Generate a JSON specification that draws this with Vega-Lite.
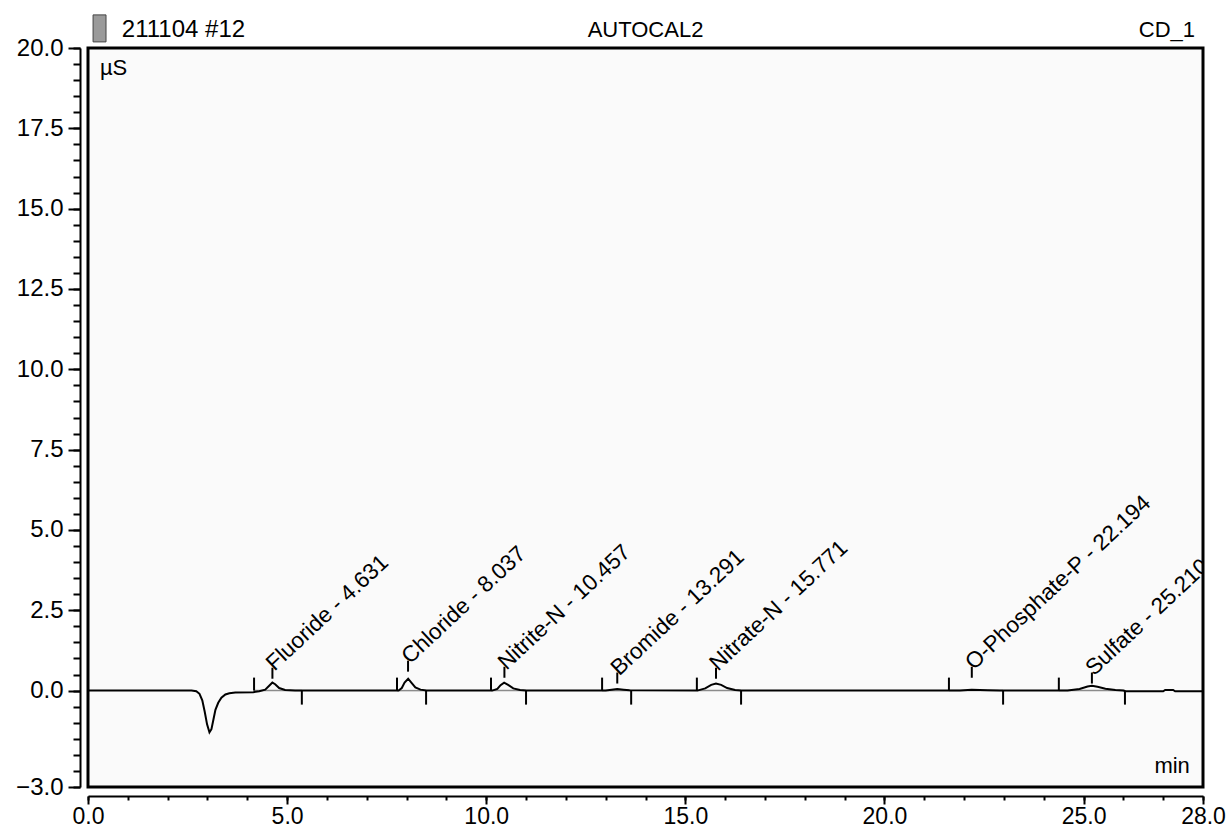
{
  "$schema": "https://vega.github.io/schema/vega-lite/v6.json",
  "width": 1115,
  "height": 739,
  "autosize": "none",
  "padding": {"left": 88, "top": 48, "right": 25, "bottom": 42},
  "background": "white",
  "view": {"fill": "#fafafa", "stroke": "black", "strokeWidth": 3},
  "config": {"font": "Liberation Sans", "text": {"font": "Liberation Sans", "fontSize": 22, "color": "black"}},
  "datasets": {
    "one": [{}],
    "trace": [
      {"t": 0, "v": 0}, {"t": 2.6, "v": 0}, {"t": 2.72, "v": -0.02}, {"t": 2.8, "v": -0.1},
      {"t": 2.87, "v": -0.3}, {"t": 2.93, "v": -0.65}, {"t": 2.99, "v": -1.05}, {"t": 3.05, "v": -1.3},
      {"t": 3.1, "v": -1.2}, {"t": 3.15, "v": -0.9}, {"t": 3.2, "v": -0.6}, {"t": 3.27, "v": -0.38},
      {"t": 3.35, "v": -0.22}, {"t": 3.45, "v": -0.12}, {"t": 3.55, "v": -0.08}, {"t": 3.7, "v": -0.06},
      {"t": 4.15, "v": -0.05}, {"t": 4.3, "v": -0.02}, {"t": 4.45, "v": 0.03}, {"t": 4.55, "v": 0.15},
      {"t": 4.63, "v": 0.25}, {"t": 4.7, "v": 0.2}, {"t": 4.8, "v": 0.08}, {"t": 4.95, "v": 0.02},
      {"t": 5.2, "v": 0}, {"t": 7.8, "v": 0}, {"t": 7.88, "v": 0.08}, {"t": 7.95, "v": 0.25},
      {"t": 8.04, "v": 0.37}, {"t": 8.12, "v": 0.25}, {"t": 8.22, "v": 0.1}, {"t": 8.35, "v": 0.03},
      {"t": 8.5, "v": 0.005}, {"t": 10.15, "v": 0}, {"t": 10.28, "v": 0.05}, {"t": 10.36, "v": 0.17},
      {"t": 10.45, "v": 0.25}, {"t": 10.55, "v": 0.18}, {"t": 10.68, "v": 0.07}, {"t": 10.85, "v": 0.02},
      {"t": 11.0, "v": 0}, {"t": 13.0, "v": 0}, {"t": 13.15, "v": 0.03}, {"t": 13.29, "v": 0.05},
      {"t": 13.45, "v": 0.03}, {"t": 13.6, "v": 0.01}, {"t": 15.3, "v": 0}, {"t": 15.5, "v": 0.07},
      {"t": 15.65, "v": 0.18}, {"t": 15.77, "v": 0.22}, {"t": 15.9, "v": 0.18}, {"t": 16.05, "v": 0.08},
      {"t": 16.25, "v": 0.02}, {"t": 16.4, "v": 0}, {"t": 21.9, "v": 0}, {"t": 22.19, "v": 0.03},
      {"t": 22.6, "v": 0.01}, {"t": 22.9, "v": 0}, {"t": 24.6, "v": 0}, {"t": 24.9, "v": 0.05},
      {"t": 25.1, "v": 0.13}, {"t": 25.21, "v": 0.15}, {"t": 25.35, "v": 0.12}, {"t": 25.55, "v": 0.06},
      {"t": 25.8, "v": 0.02}, {"t": 26.0, "v": 0}, {"t": 26.05, "v": -0.02}, {"t": 27.0, "v": -0.02},
      {"t": 27.05, "v": 0.02}, {"t": 27.25, "v": 0.02}, {"t": 27.3, "v": -0.02}, {"t": 28, "v": -0.02}
    ],
    "peaks": [
      {"label": "Fluoride - 4.631", "rt": 4.631, "tick": 0.37, "start": 4.17, "end": 5.37},
      {"label": "Chloride - 8.037", "rt": 8.037, "tick": 0.59, "start": 7.76, "end": 8.49},
      {"label": "Nitrite-N - 10.457", "rt": 10.457, "tick": 0.4, "start": 10.12, "end": 11.0},
      {"label": "Bromide - 13.291", "rt": 13.291, "tick": 0.22, "start": 12.91, "end": 13.64},
      {"label": "Nitrate-N - 15.771", "rt": 15.771, "tick": 0.37, "start": 15.29, "end": 16.4},
      {"label": "O-Phosphate-P - 22.194", "rt": 22.194, "tick": 0.4, "start": 21.62, "end": 22.98},
      {"label": "Sulfate - 25.210", "rt": 25.21, "tick": 0.22, "start": 24.38, "end": 26.04}
    ]
  },
  "resolve": {"axis": {"x": "independent", "y": "independent"}},
  "layer": [
    {
      "data": {"name": "peaks"},
      "mark": {"type": "rule", "color": "#8c8c8c", "strokeWidth": 1.5},
      "encoding": {
        "x": {"field": "start", "type": "quantitative", "scale": {"domain": [0, 28], "nice": false, "zero": false}, "axis": null},
        "x2": {"field": "end"},
        "y": {"datum": 0, "type": "quantitative", "scale": {"domain": [-3, 20], "nice": false, "zero": false}, "axis": null}
      }
    },
    {
      "data": {"name": "trace"},
      "mark": {"type": "line", "color": "black", "strokeWidth": 2, "clip": false},
      "encoding": {
        "x": {"field": "t", "type": "quantitative", "scale": {"domain": [0, 28], "nice": false, "zero": false},
          "axis": {"title": null, "orient": "bottom", "values": [0, 5, 10, 15, 20, 25, 28], "format": ".1f", "offset": 9, "tickSize": 8, "tickWidth": 2, "tickColor": "black", "domainColor": "black", "domainWidth": 2, "labelFont": "Liberation Sans", "labelFontSize": 23, "labelColor": "black", "labelPadding": 1, "labelFlush": false, "labelOverlap": false, "grid": false}},
        "y": {"field": "v", "type": "quantitative", "scale": {"domain": [-3, 20], "nice": false, "zero": false},
          "axis": {"title": null, "orient": "left", "values": [-3, 0, 2.5, 5, 7.5, 10, 12.5, 15, 17.5, 20], "format": ".1f", "offset": 8, "tickSize": 12, "tickWidth": 2, "tickColor": "black", "domainColor": "black", "domainWidth": 2, "labelFont": "Liberation Sans", "labelFontSize": 24, "labelColor": "black", "labelPadding": 5, "labelOverlap": false, "grid": false}}
      }
    },
    {
      "data": {"name": "peaks"},
      "mark": {"type": "rule", "color": "black", "strokeWidth": 2, "y2Offset": -13},
      "encoding": {
        "x": {"field": "start", "type": "quantitative", "scale": {"domain": [0, 28], "nice": false, "zero": false}, "axis": null},
        "y": {"datum": 0, "type": "quantitative", "scale": {"domain": [-3, 20], "nice": false, "zero": false}, "axis": null},
        "y2": {"datum": 0}
      }
    },
    {
      "data": {"name": "peaks"},
      "mark": {"type": "rule", "color": "black", "strokeWidth": 2, "y2Offset": 14},
      "encoding": {
        "x": {"field": "end", "type": "quantitative", "scale": {"domain": [0, 28], "nice": false, "zero": false}, "axis": null},
        "y": {"datum": 0, "type": "quantitative", "scale": {"domain": [-3, 20], "nice": false, "zero": false}, "axis": null},
        "y2": {"datum": 0}
      }
    },
    {
      "data": {"name": "peaks"},
      "mark": {"type": "rule", "color": "black", "strokeWidth": 2, "y2Offset": -11},
      "encoding": {
        "x": {"field": "rt", "type": "quantitative", "scale": {"domain": [0, 28], "nice": false, "zero": false},
          "axis": {"title": null, "orient": "bottom", "values": [0,1,2,3,4,5,6,7,8,9,10,11,12,13,14,15,16,17,18,19,20,21,22,23,24,25,26,27,28], "offset": 9, "tickSize": 4, "tickWidth": 2, "tickColor": "black", "labels": false, "domain": false, "grid": false}},
        "y": {"field": "tick", "type": "quantitative", "scale": {"domain": [-3, 20], "nice": false, "zero": false},
          "axis": {"title": null, "orient": "left", "values": [-3,-2.5,-2,-1.5,-1,-0.5,0,0.5,1,1.5,2,2.5,3,3.5,4,4.5,5,5.5,6,6.5,7,7.5,8,8.5,9,9.5,10,10.5,11,11.5,12,12.5,13,13.5,14,14.5,15,15.5,16,16.5,17,17.5,18,18.5,19,19.5,20], "offset": 8, "tickSize": 7, "tickWidth": 2, "tickColor": "black", "labels": false, "domain": false, "grid": false}},
        "y2": {"field": "tick"}
      }
    },
    {
      "data": {"name": "peaks"},
      "mark": {"type": "text", "angle": -43, "align": "left", "baseline": "alphabetic", "xOffset": 2, "yOffset": -7, "fontSize": 22.5, "clip": true},
      "encoding": {
        "x": {"field": "rt", "type": "quantitative", "scale": {"domain": [0, 28], "nice": false, "zero": false}, "axis": null},
        "y": {"field": "tick", "type": "quantitative", "scale": {"domain": [-3, 20], "nice": false, "zero": false}, "axis": null},
        "text": {"field": "label"}
      }
    },
    {
      "data": {"name": "one"},
      "mark": {"type": "text", "align": "left", "baseline": "alphabetic", "fontSize": 24, "clip": false},
      "encoding": {
        "x": {"datum": 0.85, "type": "quantitative", "scale": {"domain": [0, 28], "nice": false, "zero": false}, "axis": null},
        "y": {"datum": 20.34, "type": "quantitative", "scale": {"domain": [-3, 20], "nice": false, "zero": false}, "axis": null},
        "text": {"value": "211104 #12"}
      }
    },
    {
      "data": {"name": "one"},
      "mark": {"type": "text", "align": "center", "baseline": "alphabetic", "fontSize": 22, "clip": false},
      "encoding": {
        "x": {"datum": 14.0, "type": "quantitative", "scale": {"domain": [0, 28], "nice": false, "zero": false}, "axis": null},
        "y": {"datum": 20.34, "type": "quantitative", "scale": {"domain": [-3, 20], "nice": false, "zero": false}, "axis": null},
        "text": {"value": "AUTOCAL2"}
      }
    },
    {
      "data": {"name": "one"},
      "mark": {"type": "text", "align": "right", "baseline": "alphabetic", "fontSize": 22, "clip": false},
      "encoding": {
        "x": {"datum": 27.8, "type": "quantitative", "scale": {"domain": [0, 28], "nice": false, "zero": false}, "axis": null},
        "y": {"datum": 20.34, "type": "quantitative", "scale": {"domain": [-3, 20], "nice": false, "zero": false}, "axis": null},
        "text": {"value": "CD_1"}
      }
    },
    {
      "data": {"name": "one"},
      "mark": {"type": "text", "align": "left", "baseline": "alphabetic", "fontSize": 22, "clip": false},
      "encoding": {
        "x": {"datum": 0.3, "type": "quantitative", "scale": {"domain": [0, 28], "nice": false, "zero": false}, "axis": null},
        "y": {"datum": 19.16, "type": "quantitative", "scale": {"domain": [-3, 20], "nice": false, "zero": false}, "axis": null},
        "text": {"value": "µS"}
      }
    },
    {
      "data": {"name": "one"},
      "mark": {"type": "text", "align": "right", "baseline": "alphabetic", "fontSize": 22, "clip": false},
      "encoding": {
        "x": {"datum": 27.67, "type": "quantitative", "scale": {"domain": [0, 28], "nice": false, "zero": false}, "axis": null},
        "y": {"datum": -2.57, "type": "quantitative", "scale": {"domain": [-3, 20], "nice": false, "zero": false}, "axis": null},
        "text": {"value": "min"}
      }
    },
    {
      "data": {"name": "one"},
      "mark": {"type": "point", "shape": "M-0.48,-1H0.48V1H-0.48Z", "size": 729, "filled": true, "color": "#9a9a9a", "stroke": "#444", "strokeWidth": 1, "opacity": 1, "clip": false},
      "encoding": {
        "x": {"datum": 0.29, "type": "quantitative", "scale": {"domain": [0, 28], "nice": false, "zero": false}, "axis": null},
        "y": {"datum": 20.61, "type": "quantitative", "scale": {"domain": [-3, 20], "nice": false, "zero": false}, "axis": null}
      }
    }
  ]
}
